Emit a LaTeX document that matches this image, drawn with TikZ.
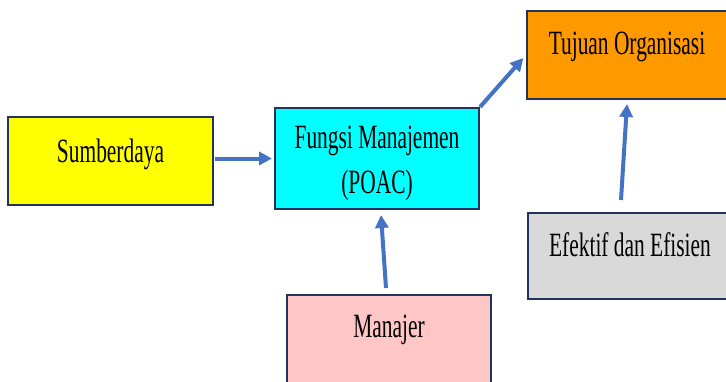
\documentclass[tikz,border=0pt]{standalone}
\usepackage{fontspec}
\setmainfont{Liberation Serif}[FakeStretch=0.63]
\usetikzlibrary{arrows.meta}
\definecolor{boxline}{RGB}{32,52,92}
\definecolor{arrowblue}{RGB}{68,114,196}
\definecolor{sumberfill}{RGB}{255,255,0}
\definecolor{fungsifill}{RGB}{0,255,255}
\definecolor{tujuanfill}{RGB}{255,153,0}
\definecolor{efektiffill}{RGB}{217,217,217}
\definecolor{manajerfill}{RGB}{255,198,198}

\tikzset{
  box/.style={draw=boxline, line width=2pt, anchor=north west, inner sep=0pt},
  lbl/.style={font=\fontsize{34}{45}\selectfont, text=black, align=center},
  arr/.style={arrowblue, line width=4pt, -{Triangle[length=13pt,width=13pt]}}
}

\begin{document}
\begin{tikzpicture}[x=1pt, y=-1pt]
\useasboundingbox (0,0) rectangle (726,381);
\clip (0,0) rectangle (726,381);

\node[box, fill=sumberfill, minimum width=205pt, minimum height=88pt,
  label={[lbl, yshift=7pt]center:Sumberdaya}] (sumber) at (7,116) {};
\node[box, fill=fungsifill, minimum width=204pt, minimum height=101pt,
  label={[lbl, yshift=-5pt]center:{Fungsi Manajemen\\(POAC)}}] (fungsi) at (274,107) {};
\node[box, fill=tujuanfill, minimum width=220pt, minimum height=88pt,
  label={[lbl, yshift=8pt, xshift=-10pt]center:Tujuan Organisasi}] (tujuan) at (526,10) {};
\node[box, fill=efektiffill, minimum width=220pt, minimum height=86pt,
  label={[lbl, yshift=11pt, xshift=-8pt]center:Efektif dan Efisien}] (efektif) at (527,212) {};
\node[box, fill=manajerfill, minimum width=204pt, minimum height=90pt,
  label={[lbl, yshift=10pt]center:Manajer}] (manajer) at (286,294) {};

% panah
\draw[arr, shorten <=1pt, shorten >=2pt] (sumber.east |- fungsi.west) -- (fungsi.west);
\draw[arr, shorten >=4pt] (fungsi.north east) -- (tujuan.west);
\draw[arr] ([xshift=-3pt, yshift=6pt]manajer.north) -- ([xshift=4pt, yshift=-5pt]fungsi.south);
\draw[arr] ([xshift=94pt, yshift=12pt]efektif.north west) -- ([xshift=101pt, yshift=-4pt]tujuan.south west);

\end{tikzpicture}
\end{document}
